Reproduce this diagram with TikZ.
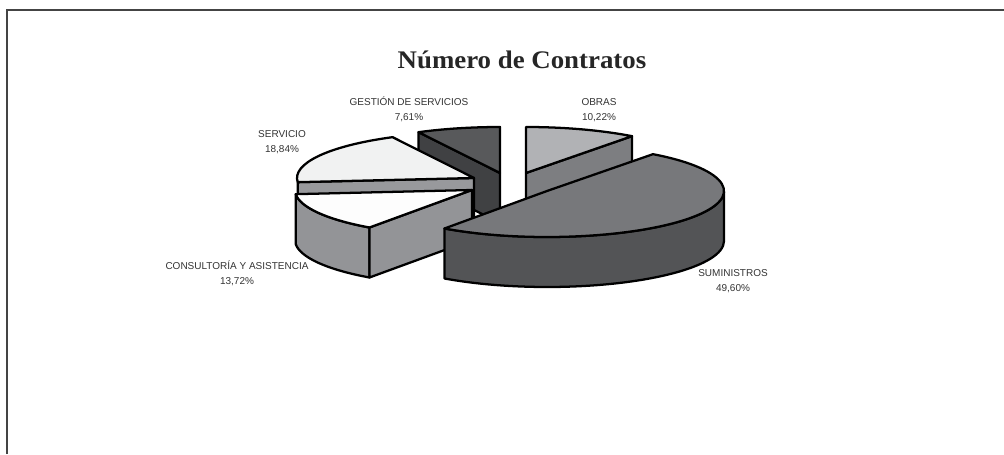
\documentclass[tikz,border=0pt]{standalone}
\usepackage{fontspec}
\setmainfont{Liberation Serif}
\newfontfamily\lblfont{Liberation Sans}
\usetikzlibrary{positioning,calc}

\definecolor{gesttop}{HTML}{58595B}
\definecolor{gestside}{HTML}{404143}
\definecolor{obrastop}{HTML}{B1B2B5}
\definecolor{obrasside}{HTML}{7D7E81}
\definecolor{servtop}{HTML}{F1F2F2}
\definecolor{servside}{HTML}{98999C}
\definecolor{constop}{HTML}{FDFDFD}
\definecolor{consside}{HTML}{939497}
\definecolor{sumtop}{HTML}{77787B}
\definecolor{sumside}{HTML}{535456}
\definecolor{lbltext}{HTML}{333333}
\definecolor{framecol}{HTML}{444444}

\begin{document}
\begin{tikzpicture}[
        x=0.75pt, y=0.75pt,
        x radius=132.75pt, y radius=34.5pt,
        face/.style={draw=black, line width=1.7pt, line join=round},
        lbl/.style={font=\lblfont\fontsize{7.5}{9}\selectfont, text=lbltext, inner sep=0pt, anchor=base},
    ]
    \useasboundingbox (0,0) rectangle (1004,454);
    \draw[framecol, line width=1.5pt] (7,0) -- (7,444) -- (1004,444);

    \node[font=\fontsize{19}{22}\selectfont\bfseries, text=black!85, anchor=base] (titulo) at (522,385.5) {\scalebox{1.06}[1]{Número de Contratos}};

    % gestion de servicios
    \coordinate (G) at (500,281);
    \filldraw[face, fill=gestside] (G) -- ++(117.4:132.75pt and 34.5pt) -- ++(0,-50) -- ($(G)+(0,-50)$) -- cycle;
    \filldraw[face, fill=gesttop] (G) -- ++(90:132.75pt and 34.5pt) arc[start angle=90, end angle=117.4] -- cycle;

    % obras
    \coordinate (O) at (526,281);
    \filldraw[face, fill=obrasside] (O) -- ++(53.2:132.75pt and 34.5pt) -- ++(0,-50) -- ($(O)+(0,-50)$) -- cycle;
    \filldraw[face, fill=obrastop] (O) -- ++(53.2:132.75pt and 34.5pt) arc[start angle=53.2, end angle=90] -- cycle;

    % servicio
    \coordinate (S) at (474,276);
    \filldraw[face, fill=servside] (S) -- ++(185.2:132.75pt and 34.5pt) -- ++(0,-50) -- ($(S)+(0,-50)$) -- cycle;
    \filldraw[face, fill=servtop] (S) -- ++(117.4:132.75pt and 34.5pt) arc[start angle=117.4, end angle=185.2] -- cycle;

    % consultoria y asistencia
    \coordinate (C) at (472,264);
    \filldraw[face, fill=consside] ($(C)+(185.2:132.75pt and 34.5pt)$) arc[start angle=185.2, end angle=234.6] -- ++(0,-50) arc[start angle=234.6, end angle=185.2] -- cycle;
    \filldraw[face, fill=consside] (C) -- ++(234.6:132.75pt and 34.5pt) -- ++(0,-50) -- ($(C)+(0,-50)$) -- cycle;
    \filldraw[face, fill=constop] (C) -- ++(185.2:132.75pt and 34.5pt) arc[start angle=185.2, end angle=234.6] -- cycle;

    % suministros
    \coordinate (M) at (547,263);
    \filldraw[face, fill=sumside] ($(M)+(234.6:132.75pt and 34.5pt)$) arc[start angle=234.6, end angle=360] -- ++(0,-50) arc[start angle=360, end angle=234.6] -- cycle;
    \filldraw[face, fill=sumtop] (M) -- ++(234.6:132.75pt and 34.5pt) arc[start angle=234.6, end angle=413.2] -- cycle;

    % etiquetas
    \node[lbl] (gest) at (409,348.5) {GESTIÓN DE SERVICIOS};
    \node[lbl] (gestv) at ([yshift=-11.25pt]gest.base) {7,61\%};
    \node[lbl] (obras) at (599,348.5) {OBRAS};
    \node[lbl] (obrasv) at ([yshift=-11.25pt]obras.base) {10,22\%};
    \node[lbl] (serv) at (282,316.5) {SERVICIO};
    \node[lbl] (servv) at ([yshift=-11.25pt]serv.base) {18,84\%};
    \node[lbl] (cons) at (237,184.5) {CONSULTORÍA Y ASISTENCIA};
    \node[lbl] (consv) at ([yshift=-11.25pt]cons.base) {13,72\%};
    \node[lbl] (sum) at (733,177.5) {SUMINISTROS};
    \node[lbl] (sumv) at ([yshift=-11.25pt]sum.base) {49,60\%};
\end{tikzpicture}
\end{document}
